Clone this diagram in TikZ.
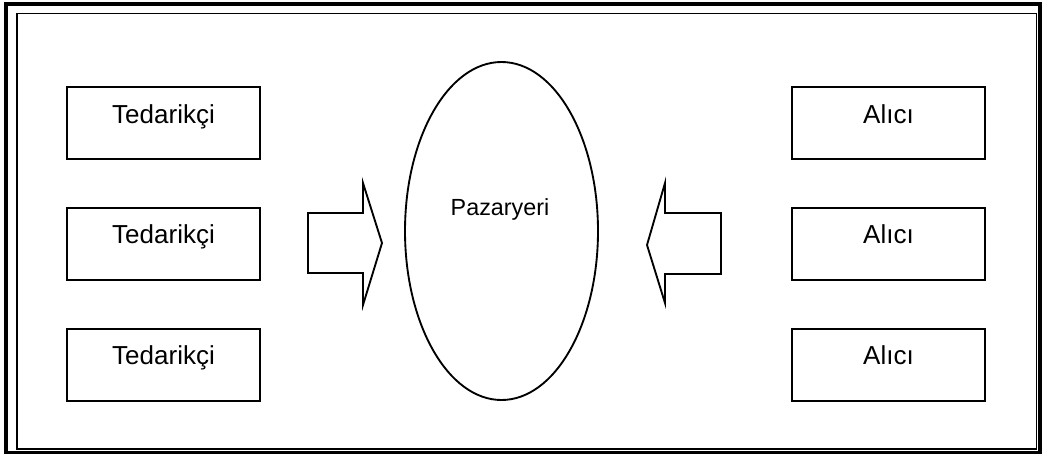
\documentclass[tikz,border=0pt]{standalone}
\usepackage{fontspec}
\setmainfont{Liberation Sans}
\usetikzlibrary{shapes.geometric}
\begin{document}
\begin{tikzpicture}[x=0.75pt,y=-0.75pt,
  party/.style={draw, line width=1.5pt, rectangle, inner sep=0pt,
    minimum width=144.75pt, minimum height=54pt,
    text height=11pt, text depth=11pt, font=\fontsize{19.5pt}{22pt}\selectfont},
  market/.style={draw, line width=1.4pt, ellipse, inner sep=0pt,
    minimum width=144.75pt, minimum height=253.5pt},
  flow/.style={draw, line width=1.4pt, line join=miter}]
\useasboundingbox (0,0) rectangle (1046,457);
% double frame
\draw[line width=2.4pt] (6,4) rectangle (1040,452.5);
\draw[line width=1.2pt] (17,13.5) rectangle (1036.5,449);
% suppliers
\node[party] (s1) at (163.5,123) {Tedarikçi};
\node[party] (s2) at (163.5,243.5) {Tedarikçi};
\node[party] (s3) at (163.5,364.5) {Tedarikçi};
% buyers
\node[party] (b1) at (888.5,123) {Alıcı};
\node[party] (b2) at (888.5,243.5) {Alıcı};
\node[party] (b3) at (888.5,364.5) {Alıcı};
% marketplace
\node[market] (mkt) at (501.5,231) {};
\node[anchor=base, font=\fontsize{17.5pt}{20pt}\selectfont] (mktlabel) at (500,215) {Pazaryeri};
% block arrows towards the marketplace
\draw[flow] (308,213) -- (363,213) -- (363,183) -- (382,243) -- (363,305) -- (363,273) -- (308,273) -- cycle;
\draw[flow] (721,213) -- (665,213) -- (665,183) -- (647,245) -- (665,303) -- (665,274) -- (721,274) -- cycle;
\end{tikzpicture}
\end{document}
